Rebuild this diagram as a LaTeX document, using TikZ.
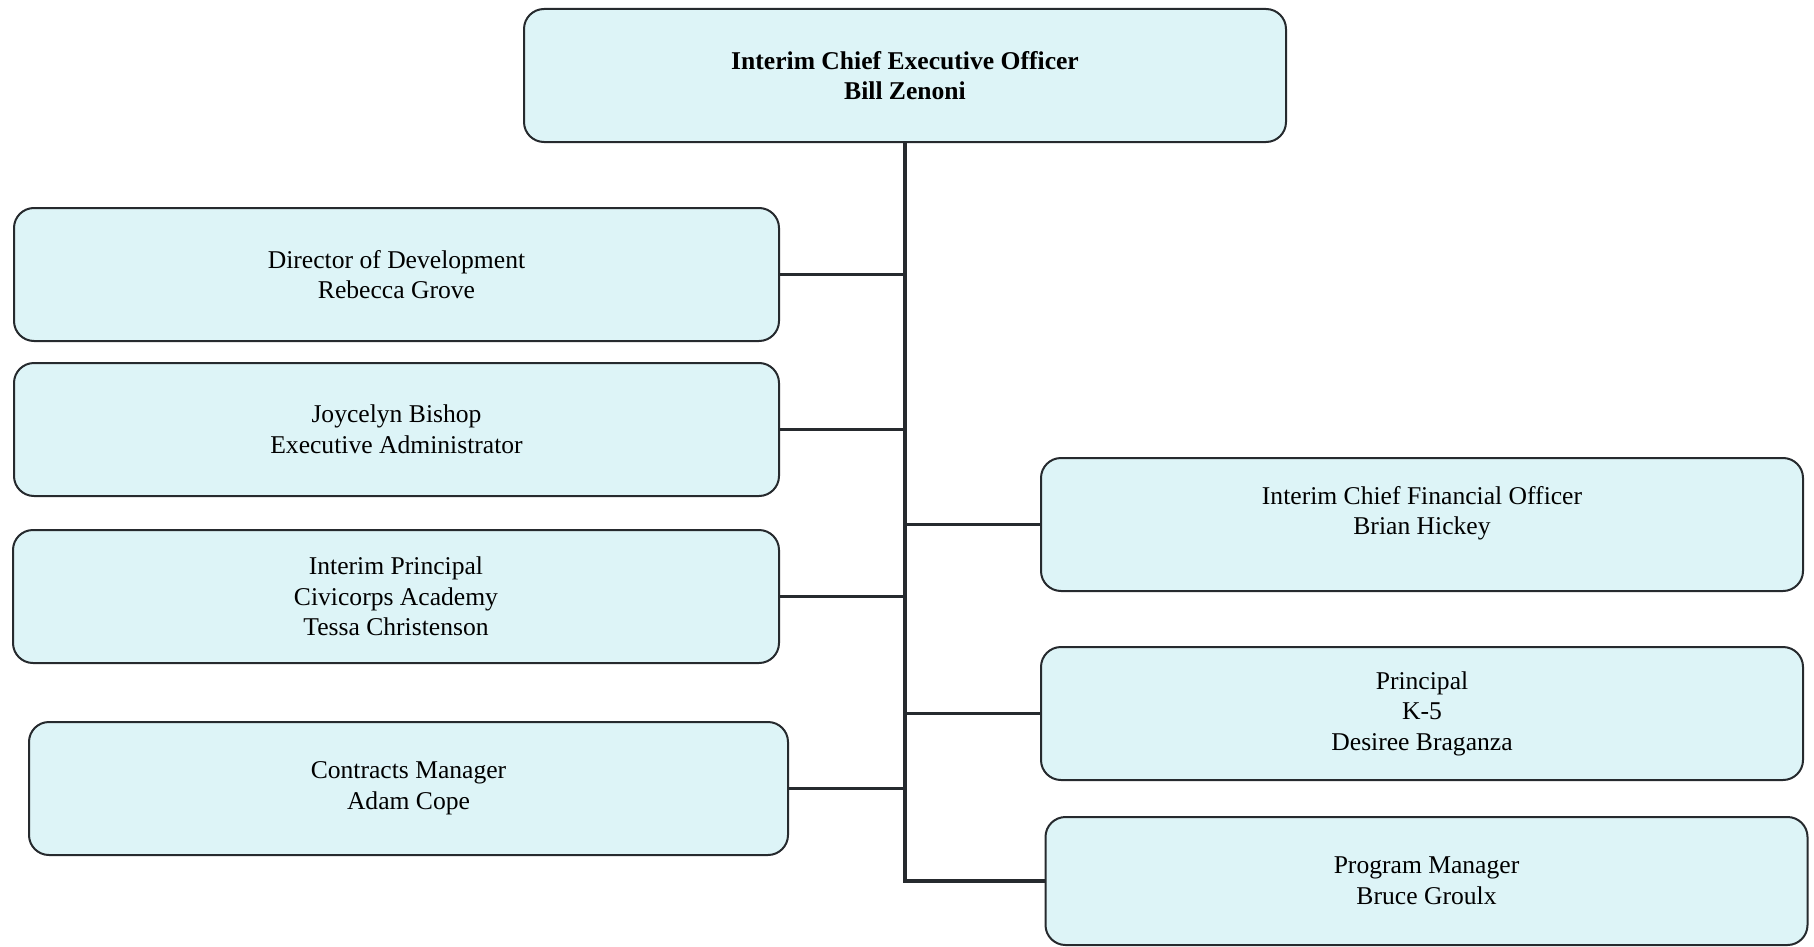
\documentclass[tikz,border=0pt]{standalone}
\usepackage{fontspec}
\setmainfont{Liberation Serif}
\definecolor{boxfill}{RGB}{221,244,247}
\definecolor{boxline}{RGB}{38,42,46}
\begin{document}
\begin{tikzpicture}[x=0.5pt, y=-0.5pt,
  post/.style={draw=boxline, fill=boxfill, line width=1pt, rounded corners=10pt,
    minimum width=381pt, minimum height=66.5pt, align=center, inner sep=0pt,
    font=\fontsize{12.8}{15.3}\selectfont},
  link/.style={draw=boxline, line width=1.8pt}]
\def\tx{905};

\useasboundingbox (0,0) rectangle (1814,947);

% top
\node[post, font=\fontsize{12.8}{15.3}\selectfont\bfseries] (ceo) at (\tx, 75.5) {Interim Chief Executive Officer\\Bill Zenoni};

% left side
\node[post, minimum width=382.5pt] (dev) at (396.5, 274.5) {Director of Development\\Rebecca Grove};
\node[post, minimum width=382.5pt] (admin) at (396.5, 429.5) {Joycelyn Bishop\\Executive Administrator};
\node[post, minimum width=383pt] (civ) at (396, 596.5) {Interim Principal\\Civicorps Academy\\Tessa Christenson};
\node[post, minimum width=379.5pt] (contr) at (408.5, 788.5) {Contracts Manager\\Adam Cope};

% right side
\node[post] (cfo) at (1422, 524.5) {Interim Chief Financial Officer\\Brian Hickey\\[-6pt]\strut};
\node[post] (k5) at (1422, 713.5) {Principal\\K-5\\Desiree Braganza};
\node[post, minimum height=64pt] (prog) at (1426.5, 881) {Program Manager\\Bruce Groulx};

% trunk
\coordinate (end) at (\tx, 881);
\draw[link] (ceo.south) -- (end) -- (prog.west);

\draw[link] (dev.east) -- (dev.east -| end);
\draw[link] (admin.east) -- (admin.east -| end);
\draw[link] (civ.east) -- (civ.east -| end);
\draw[link] (contr.east) -- (contr.east -| end);
\draw[link] (cfo.west) -- (cfo.west -| end);
\draw[link] (k5.west) -- (k5.west -| end);

\end{tikzpicture}
\end{document}
